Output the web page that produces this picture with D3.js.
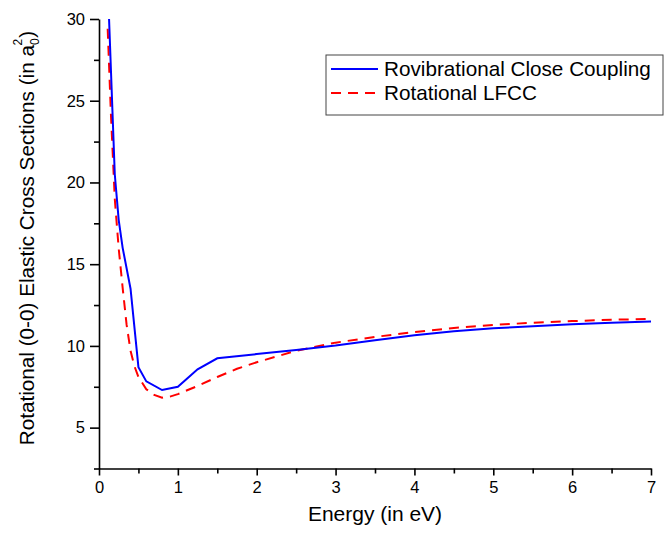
<!doctype html>
<html>
<head>
<meta charset="utf-8">
<style>
  body { margin: 0; background: #fff; }
  text { font-family: "Liberation Sans", Arial, sans-serif; fill: #000; }
</style>
<script src="https://d3js.org/d3.v7.min.js"></script>
</head>
<body>
<svg width="666" height="535"></svg>
<script>
// data
var rovibE = [0.1, 0.2, 0.25, 0.3, 0.4, 0.5, 0.6, 0.8, 1.0, 1.25, 1.5, 2, 2.5, 3, 3.5, 4, 4.5, 5, 5.5, 6, 6.5, 7];
var rovibS = [33.6, 20.5, 17.7, 16.0, 13.5, 8.7, 7.83, 7.3, 7.5, 8.57, 9.24, 9.5, 9.75, 10.02, 10.35, 10.65, 10.9, 11.08, 11.2, 11.32, 11.42, 11.5];
var lfccE = [0.11, 0.15, 0.2, 0.25, 0.3, 0.35, 0.4, 0.45, 0.5, 0.6, 0.7, 0.8, 0.9, 1.0, 1.25, 1.5, 1.75, 2, 2.5, 3, 3.5, 4, 4.5, 5, 5.5, 6, 6.5, 7];
var lfccS = [29.4, 24.3, 19.0, 15.95, 13.55, 11.3, 9.7, 8.75, 8.1, 7.35, 7.0, 6.83, 6.9, 7.05, 7.55, 8.1, 8.6, 9.0, 9.7, 10.2, 10.55, 10.85, 11.1, 11.28, 11.42, 11.52, 11.6, 11.65];
var seriesNames = ["Rovibrational Close Coupling", "Rotational LFCC"];
var xMajor = [0, 1, 2, 3, 4, 5, 6, 7];
var xMinor = [0.5, 1.5, 2.5, 3.5, 4.5, 5.5, 6.5];
var yMajor = [5, 10, 15, 20, 25, 30];
var yMinor = [2.5, 7.5, 12.5, 17.5, 22.5, 27.5];

var svg = d3.select("svg");
var mLeft = 99, mRight = 651, mTop = 19, mBottom = 468.5;

var x = d3.scaleLinear().domain([0, 7]).range([mLeft, mRight]);
var y = d3.scaleLinear().domain([2.5, 30]).range([mBottom, mTop]);

svg.append("defs").append("clipPath").attr("id", "plot")
   .append("rect").attr("x", mLeft).attr("y", mTop)
   .attr("width", mRight - mLeft).attr("height", mBottom - mTop);

// axes: major ticks with labels, minor ticks without
svg.append("g").attr("transform", "translate(0," + mBottom + ")")
   .call(d3.axisBottom(x).tickValues(xMajor).tickFormat(d3.format("d")).tickSize(7).tickPadding(6).tickSizeOuter(0))
   .call(function(g) { g.selectAll("text").attr("font-size", 16.5).attr("font-family", "Liberation Sans, Arial"); });
svg.append("g").attr("transform", "translate(0," + mBottom + ")")
   .call(d3.axisBottom(x).tickValues(xMinor).tickSize(5).tickFormat("").tickSizeOuter(0))
   .call(function(g) { g.select(".domain").remove(); });

svg.append("g").attr("transform", "translate(" + mLeft + ",0)")
   .call(d3.axisLeft(y).tickValues(yMajor).tickFormat(d3.format("d")).tickSize(9).tickPadding(5).tickSizeOuter(0))
   .call(function(g) { g.selectAll("text").attr("font-size", 16.5).attr("font-family", "Liberation Sans, Arial"); });
svg.append("g").attr("transform", "translate(" + mLeft + ",0)")
   .call(d3.axisLeft(y).tickValues(yMinor).tickSize(5).tickFormat("").tickSizeOuter(0))
   .call(function(g) { g.select(".domain").remove(); });

svg.selectAll(".domain, .tick line").attr("stroke", "#000").attr("stroke-width", 1.6);

// lines
var line = d3.line().x(function(d) { return x(d[0]); }).y(function(d) { return y(d[1]); });
var plot = svg.append("g").attr("clip-path", "url(#plot)");

plot.append("path")
    .datum(d3.zip(lfccE, lfccS))
    .attr("d", line)
    .attr("fill", "none")
    .attr("stroke", "#ff0000")
    .attr("stroke-width", 2)
    .attr("stroke-dasharray", "10,7");

plot.append("path")
    .datum(d3.zip(rovibE, rovibS))
    .attr("d", line)
    .attr("fill", "none")
    .attr("stroke", "#0000ff")
    .attr("stroke-width", 2);

// axis titles
svg.append("text")
   .attr("x", (mLeft + mRight) / 2)
   .attr("y", 521)
   .attr("text-anchor", "middle")
   .attr("font-size", 21)
   .text("Energy (in eV)");

var yt = svg.append("text")
   .attr("transform", "translate(34," + 238 + ") rotate(-90)")
   .attr("text-anchor", "middle")
   .attr("font-size", 20.7);
yt.append("tspan").text("Rotational (0-0) Elastic Cross Sections (in a");
yt.append("tspan").attr("font-size", 12).attr("dy", 5).text("0");
yt.append("tspan").attr("font-size", 12).attr("dx", -7).attr("dy", -17).text("2");
yt.append("tspan").attr("dx", 1).attr("dy", 12).text(")");

// legend
var lg = svg.append("g");
lg.append("rect")
  .attr("x", 326).attr("y", 55).attr("width", 337).attr("height", 60)
  .attr("fill", "#fff").attr("stroke", "#444").attr("stroke-width", 1);
var rows = [{c: "#0000ff", dash: null}, {c: "#ff0000", dash: "10,7"}];
rows.forEach(function(r, i) {
  var yy = 69 + i * 24;
  lg.append("line")
    .attr("x1", 331).attr("x2", 378).attr("y1", yy).attr("y2", yy)
    .attr("stroke", r.c).attr("stroke-width", 2)
    .attr("stroke-dasharray", r.dash);
  lg.append("text")
    .attr("x", 384).attr("y", yy + 7)
    .attr("font-size", 20.7)
    .text(seriesNames[i]);
});
</script>
</body>
</html>
